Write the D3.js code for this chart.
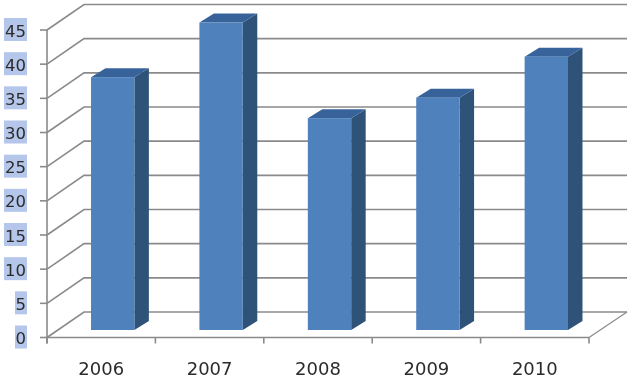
<!DOCTYPE html>
<meta charset="utf-8">
<style>
  html, body { margin: 0; background: #fff; }
  svg { display: block; filter: blur(0.4px); }
  text { font-family: "DejaVu Sans", sans-serif; fill: #2b2b2b; }
</style>
<body>
<svg width="632" height="380"></svg>
<script src="https://d3js.org/d3.v7.min.js"></script>
<script>
  let years = ["2006", "2007", "2008", "2009", "2010"];
  let values = [37, 45, 31, 34, 40];
  let y_ticks = [0, 5, 10, 15, 20, 25, 30, 35, 40, 45];

  const GRID = "#8a8a8a";
  let svg = d3.select("svg");

  // front plane of the fake 3d box, the back wall sits at +dx, -dy
  let wall_dx = 37, wall_dy = 25.5;
  let bar_dx = 14.5, bar_dy = 9;

  let x = d3.scaleBand().domain(years).range([47, 589]);
  let y = d3.scaleLinear().domain([0, 45]).range([337.5, 30]);
  let bar_w = x.bandwidth() * 0.4;

  // wall and floor lines
  let grid = svg.append("g").attr("fill", "none").attr("stroke", GRID).attr("stroke-width", 1.6);
  grid.selectAll("path.wall")
    .data(y_ticks)
    .enter().append("path")
      .attr("class", "wall")
      .attr("d", d => `M47,${y(d)}L${47 + wall_dx},${y(d) - wall_dy}L627,${y(d) - wall_dy}`);
  grid.append("path")
    .attr("d", `M627,${y(0) - wall_dy}L589,${y(0)}`)
    .attr("stroke-width", 1.2);

  // axes
  let axes = svg.append("g").attr("stroke", GRID).attr("stroke-width", 1.6);
  axes.append("line").attr("x1", 47).attr("x2", 47).attr("y1", y(45)).attr("y2", y(0) + 6);
  axes.append("line").attr("x1", 47).attr("x2", 589).attr("y1", y(0)).attr("y2", y(0));
  axes.selectAll("line.ytick")
    .data(y_ticks)
    .enter().append("line")
      .attr("class", "ytick")
      .attr("x1", 40).attr("x2", 47)
      .attr("y1", d => y(d)).attr("y2", d => y(d));
  axes.selectAll("line.xtick")
    .data(years.concat(["end"]))
    .enter().append("line")
      .attr("class", "xtick")
      .attr("x1", (d, i) => 47 + i * x.step()).attr("x2", (d, i) => 47 + i * x.step())
      .attr("y1", y(0)).attr("y2", y(0) + 6);

  // bars, front face is shifted a bit into the box
  let bar_x = d => x(d) + x.bandwidth() * 0.3 + 11.5;
  let bar_y = d => y(d) - 7.5;
  let base = y(0) - 7.5;

  let bars = svg.append("g").selectAll("g")
    .data(years.map((d, i) => ({ year: d, value: values[i] })))
    .enter().append("g");

  bars.append("path")
    .attr("fill", "#2f5279")
    .attr("d", d => {
      let l = bar_x(d.year) + bar_w, t = bar_y(d.value);
      return `M${l},${t}L${l + bar_dx},${t - bar_dy}L${l + bar_dx},${base - bar_dy}L${l},${base}Z`;
    });
  bars.append("path")
    .attr("fill", "#38639a")
    .attr("d", d => {
      let l = bar_x(d.year), t = bar_y(d.value);
      return `M${l},${t}L${l + bar_dx},${t - bar_dy}L${l + bar_w + bar_dx},${t - bar_dy}L${l + bar_w},${t}Z`;
    });
  bars.append("rect")
    .attr("fill", "#4f81bd")
    .attr("x", d => bar_x(d.year))
    .attr("y", d => bar_y(d.value))
    .attr("width", bar_w)
    .attr("height", d => base - bar_y(d.value));

  // y labels have a pale blue highlight behind them
  let ylabels = svg.append("g").selectAll("g")
    .data(y_ticks)
    .enter().append("g");
  ylabels.append("rect")
    .attr("fill", "#b4c6e9")
    .attr("x", d => d < 10 ? 15 : 4)
    .attr("width", d => d < 10 ? 12 : 23)
    .attr("y", d => y(d) - 12)
    .attr("height", 23);
  ylabels.append("text")
    .attr("x", 26)
    .attr("y", d => y(d) + 6.5)
    .attr("text-anchor", "end")
    .attr("font-size", 16.5)
    .text(d => d);

  svg.append("g").selectAll("text")
    .data(years)
    .enter().append("text")
      .attr("x", d => x(d) + x.bandwidth() / 2)
      .attr("y", 375)
      .attr("text-anchor", "middle")
      .attr("font-size", 18)
      .text(d => d);
</script>
</body>
